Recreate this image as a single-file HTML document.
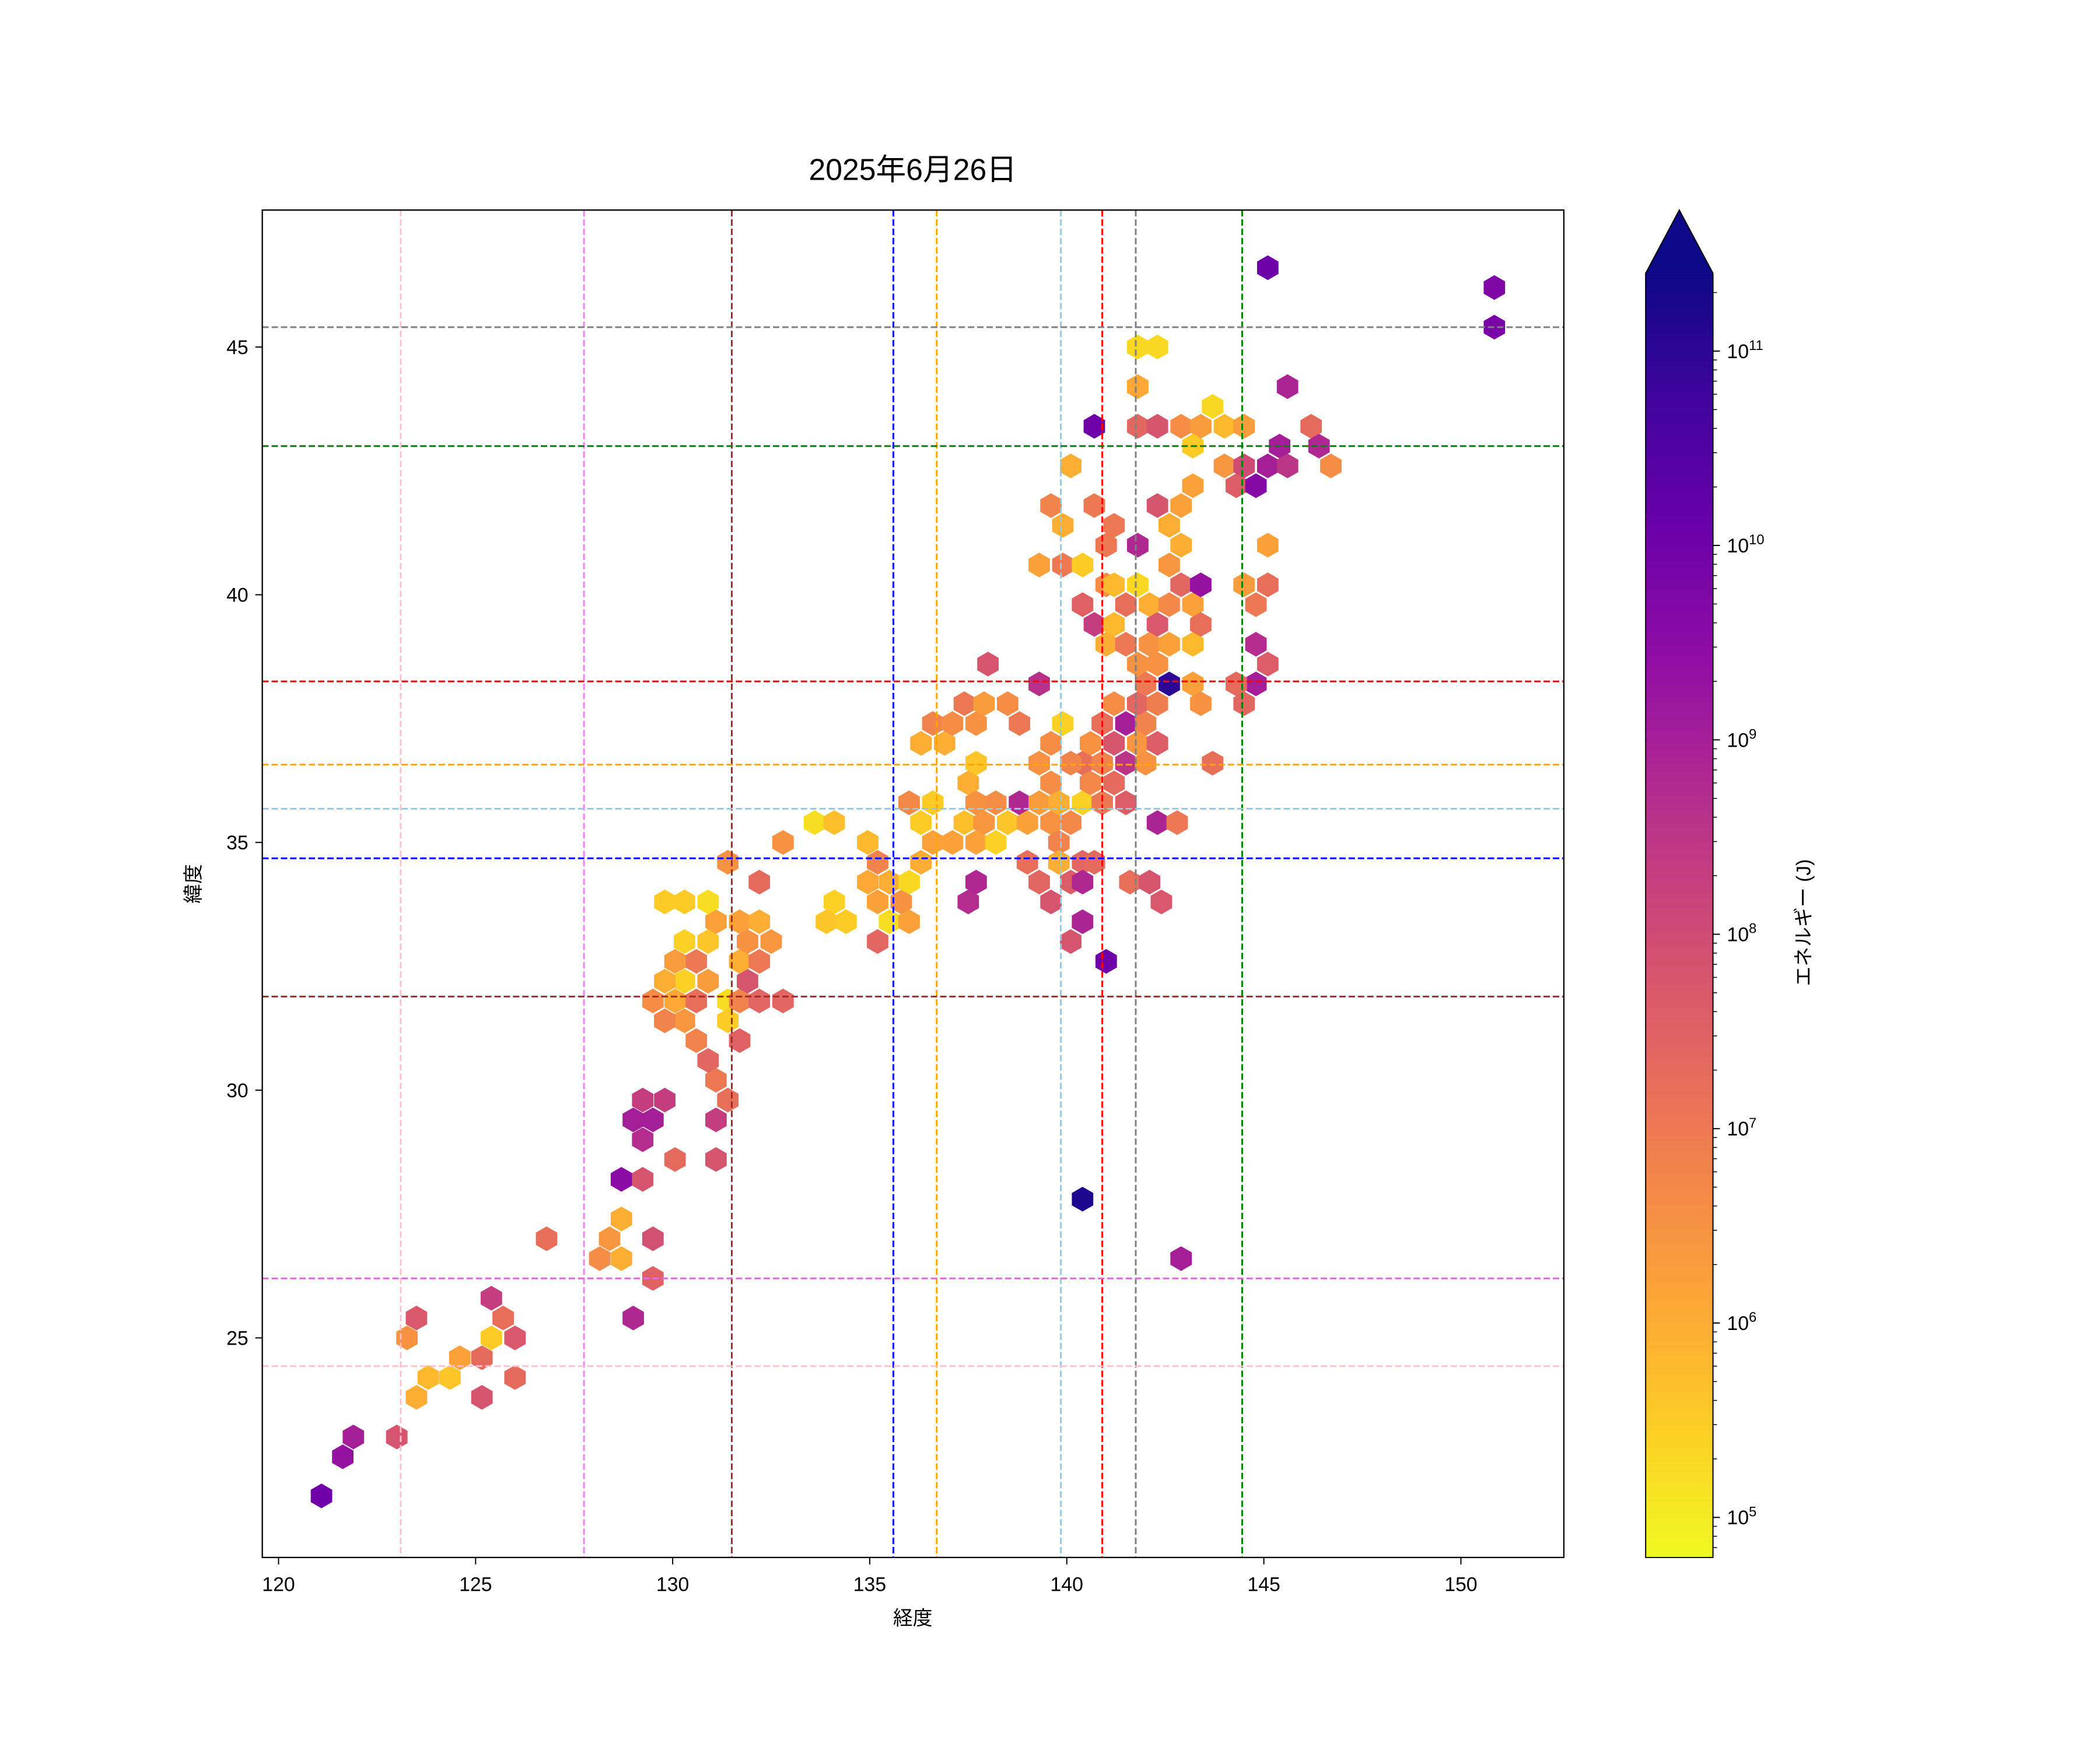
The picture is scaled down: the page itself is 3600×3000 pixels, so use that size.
<!DOCTYPE html>
<html><head><meta charset="utf-8"><style>
html,body{margin:0;padding:0;background:#fff;}
svg{display:block;font-family:"Liberation Sans","Noto Sans CJK JP",sans-serif;}
</style></head><body>
<svg id="chart" width="3600" height="3000" viewBox="0 0 3600 3000" xmlns="http://www.w3.org/2000/svg">
<rect width="3600" height="3000" fill="#fff"/>
<defs><linearGradient id="cbg" x1="0" y1="1" x2="0" y2="0"></linearGradient></defs>
<g transform="scale(0.99476)">
<text x="1573" y="310" font-size="52" text-anchor="middle" fill="#000">2025年6月26日</text>
<g id="hexes"></g>
<g id="refs"></g>
<rect x="452" y="362" width="2243" height="2322" fill="none" stroke="#000" stroke-width="2.3"/>
<g id="xaxis"></g>
<g id="yaxis"></g>
<text x="1573" y="2800" font-size="34" text-anchor="middle">経度</text>
<text transform="translate(345,1523) rotate(-90)" font-size="34" text-anchor="middle">緯度</text>
<g id="cbar"></g>
<text transform="translate(3120,1590) rotate(-90)" font-size="34" text-anchor="middle">エネルギー (J)</text>
</g>
</svg>
<script>
// data: [longitude, latitude, log10 energy]
const lons=[121.09,121.63,121.9,123.0,123.26,123.5,123.5,123.8,124.35,124.6,125.16,125.16,125.4,125.4,125.7,126.0,126.0,126.8,128.15,128.4,128.7,128.7,128.7,129.0,129.24,129.5,129.5,129.0,129.24,129.24,129.5,129.8,130.06,131.1,131.1,131.4,131.1,130.9,130.6,130.3,129.8,129.5,130.06,130.6,130.9,130.3,129.8,130.06,130.6,130.3,130.9,131.1,129.8,130.3,130.9,131.4,131.4,131.7,131.7,131.9,131.7,131.7,131.9,132.2,132.2,132.5,132.2,132.8,132.2,131.4,132.8,133.6,134.1,133.9,134.4,134.1,134.95,134.95,135.2,135.2,135.5,135.5,135.2,135.8,136.0,136.0,136.3,136.3,136.6,136.0,136.6,136.3,136.6,136.9,137.1,137.1,137.4,137.5,137.7,137.4,137.7,137.9,138.0,137.7,137.9,138.2,137.7,138.2,138.5,137.7,137.5,138.5,138.8,138.8,139.0,139.0,139.3,139.3,139.3,139.6,139.3,139.6,139.9,139.6,139.6,139.8,140.1,139.8,139.8,140.1,140.4,140.4,140.4,140.1,141.0,140.7,140.4,140.4,140.6,140.1,140.6,140.9,141.2,140.9,141.2,140.9,141.5,141.5,141.5,141.2,141.8,142.0,141.8,142.0,142.3,142.0,142.3,142.6,143.2,143.4,143.7,142.3,142.8,141.6,142.1,142.4,140.7,140.1,139.6,139.9,140.7,139.3,139.9,140.4,140.4,140.7,141.0,141.0,141.0,141.2,141.2,141.2,141.5,141.5,141.8,141.8,141.8,142.1,142.1,142.3,142.3,142.6,142.6,142.9,143.2,143.2,143.4,143.4,142.6,142.9,142.6,142.3,142.9,143.2,141.8,141.8,142.3,141.8,142.3,142.9,143.4,143.2,143.7,144.0,144.5,144.0,144.3,144.5,144.8,145.1,145.4,145.6,145.6,145.1,146.2,146.4,146.7,145.1,144.5,145.1,144.8,144.8,145.1,144.8,144.5,144.3,140.4,142.9,150.85,150.85];
const lats=[21.81,22.6,23.0,23.0,25.0,25.4,23.8,24.2,24.2,24.6,24.6,23.8,25.8,25.0,25.4,25.0,24.2,27.0,26.6,27.0,27.4,26.6,28.2,25.4,28.2,27.0,26.2,29.4,29.8,29.0,29.4,29.8,28.6,29.4,28.6,29.8,30.2,30.6,31.0,31.4,31.4,31.8,31.8,31.8,32.2,32.2,32.2,32.6,32.6,33.0,33.0,33.4,33.8,33.8,33.8,31.8,31.4,31.0,31.8,32.2,32.6,33.4,33.0,32.6,33.4,33.0,31.8,31.8,34.2,34.6,35.0,35.4,35.4,33.4,33.4,33.8,35.0,34.2,34.6,33.8,34.2,33.4,33.0,33.8,34.2,33.4,34.6,35.4,35.0,35.8,35.8,37.0,37.4,37.0,37.4,35.0,35.4,36.2,36.6,37.8,37.4,37.8,38.6,35.8,35.4,35.8,35.0,35.0,35.4,34.2,33.8,37.8,37.4,35.8,35.4,34.6,35.8,36.6,34.2,33.8,38.2,37.0,37.4,36.2,35.4,35.8,35.4,35.0,34.6,34.2,34.6,34.2,33.4,33.0,32.6,34.6,35.8,36.6,36.2,36.6,37.0,37.4,37.0,36.6,36.2,35.8,35.8,36.6,37.4,37.8,37.8,37.4,37.0,36.6,37.0,38.2,37.8,38.2,38.2,37.8,36.6,35.4,35.4,34.2,34.2,33.8,43.4,42.6,41.8,41.4,41.8,40.6,40.6,40.6,39.8,39.4,39.0,40.2,41.0,41.4,39.4,40.2,39.8,39.0,40.2,41.0,38.6,39.8,39.0,39.4,38.6,39.8,39.0,40.2,39.8,39.0,39.4,40.2,40.6,41.0,41.4,41.8,41.8,42.2,44.2,45.0,45.0,43.4,43.4,43.4,43.4,43.0,43.8,43.4,43.4,42.6,42.2,42.6,42.2,42.6,43.0,42.6,44.2,46.6,43.4,43.0,42.6,41.0,40.2,40.2,39.8,39.0,38.6,38.2,37.8,38.2,27.8,26.6,46.2,45.4];
const energies=[10,9.3,9,7.8,6.5,7.7,6,5.8,5.6,6.2,7.3,7.8,8.3,5.5,7.2,7.7,7.3,7.2,6.6,6.4,6.0,6.0,9.5,8.8,7.8,7.9,7.5,9,8.3,8.7,9,8.3,7.3,8.3,7.8,7.2,7.0,7.4,6.8,6.4,6.8,6.6,6.1,7.2,6.3,5.4,6.0,6.3,7.0,5.4,5.6,6.2,5.5,5.5,5.2,5.2,5.5,7.5,6.8,7.8,6.0,6.2,6.5,7.0,6.0,6.4,7.4,7.4,7.3,6.5,6.5,5.2,5.7,5.6,5.5,5.4,5.8,6.1,6.8,6.2,6.0,5.2,7.4,6.5,5.3,6.2,6.0,5.5,6.2,6.7,5.5,6.0,6.8,6.0,6.6,6.2,5.7,6.0,5.6,7.0,6.5,6.3,7.8,6.5,6.4,6.6,6.2,5.4,5.6,8.8,8.7,6.6,7.0,8.8,6.2,7.2,6.3,6.5,7.4,7.8,8.6,6.6,5.4,6.6,6.5,6.0,6.7,6.8,6.0,7.6,7.4,8.8,8.9,7.8,10,7.3,5.4,7.2,6.7,6.8,6.5,7.2,7.8,6.8,7.3,7.0,7.6,8.5,9,6.6,7.4,6.8,6.4,6.5,7.6,7.0,6.9,11,6.2,6.5,7.2,8.9,7.0,7.2,7.8,7.7,10,6.0,6.8,6.0,7.0,6.2,7.0,5.5,7.5,8.3,6.0,6.6,7.0,7.0,5.8,5.8,7.2,7.0,5.3,8.8,6.5,6.0,6.5,7.7,6.5,6.7,6.2,7.4,6.2,5.8,7.2,9.3,6.4,6.0,6.0,7.8,6.2,6.2,6.1,5.3,5.3,7.4,7.8,6.6,6.3,5.5,5.3,5.8,6.3,6.4,7.6,8.0,9.6,9.0,9.0,8.5,8.9,10,7.3,8.8,6.6,6.2,6.3,7.2,7.0,8.7,7.6,9.0,7.4,7.3,11.2,9.0,9.7,9.8];
const xTicks=[120,125,130,135,140,145,150];
const yTicks=[25,30,35,40,45];
const cbTicks=[5,6,7,8,9,10,11];
const vLineLons=[123.1,127.75,131.5,135.6,136.7,139.85,140.9,141.75,144.45];
const vLineColors=["pink","violet","brown","blue","orange","skyblue","red","gray","green"];
const hLineLats=[45.4,43.0,38.25,36.57,35.68,34.68,31.89,26.2,24.43];
const hLineColors=["gray","green","red","orange","skyblue","blue","brown","orchid","pink"];

const NS="http://www.w3.org/2000/svg";
const X=v=>480+(v-120)*67.92;
const Y=v=>598+(45-v)*85.38;
const CB=v=>605+(11-v)*335;
const vmin=4.79,vmax=11.4;
const stops=["#0d0887","#41049d","#6a00a8","#8f0da4","#b12a90","#cc4778","#e16462","#f2844b","#fca636","#fcce25","#f0f921"];
function hex2rgb(h){return [1,3,5].map(i=>parseInt(h.substr(i,2),16));}
function plasmaR(v){let t=1-(v-vmin)/(vmax-vmin);t=Math.max(0,Math.min(1,t));const p=t*10,i=Math.min(9,Math.floor(p)),f=p-i;const a=hex2rgb(stops[i]),b=hex2rgb(stops[i+1]);return "rgb("+a.map((c,k)=>Math.round(c+(b[k]-c)*f)).join(",")+")";}
function mk(tag,attrs,parent){const e=document.createElementNS(NS,tag);for(const k in attrs)e.setAttribute(k,attrs[k]);parent.appendChild(e);return e;}

const hg=document.getElementById('hexes');
const hw=18.5,hr=21.3;
for(let i=0;i<lons.length;i++){
  const cx=X(lons[i]),cy=Y(lats[i]);
  const pts=[[0,-hr],[hw,-hr/2],[hw,hr/2],[0,hr],[-hw,hr/2],[-hw,-hr/2]].map(p=>(cx+p[0]).toFixed(1)+","+(cy+p[1]).toFixed(1)).join(" ");
  const h=mk('polygon',{points:pts,fill:plasmaR(energies[i])},hg);
  
  
}
const rg=document.getElementById('refs');
for(let i=0;i<vLineLons.length;i++){
  const l=mk('line',{x1:X(vLineLons[i]),x2:X(vLineLons[i]),y1:362,y2:2684,stroke:vLineColors[i],'stroke-width':3,'stroke-dasharray':'11,5'},rg);
  
  
}
for(let i=0;i<hLineLats.length;i++){
  const l=mk('line',{x1:452,x2:2695,y1:Y(hLineLats[i]),y2:Y(hLineLats[i]),stroke:hLineColors[i],'stroke-width':3,'stroke-dasharray':'11,5'},rg);
  
  
}
const xg=document.getElementById('xaxis');
xTicks.forEach(t=>{
  mk('line',{x1:X(t),x2:X(t),y1:2684,y2:2696,stroke:'#000','stroke-width':2},xg);
  const tx=mk('text',{x:X(t),y:2742,'font-size':34,'text-anchor':'middle'},xg);tx.textContent=t;
  
  
});
const yg=document.getElementById('yaxis');
yTicks.forEach(t=>{
  mk('line',{x1:440,x2:452,y1:Y(t),y2:Y(t),stroke:'#000','stroke-width':2},yg);
  const tx=mk('text',{x:428,y:Y(t)+12,'font-size':34,'text-anchor':'end'},yg);tx.textContent=t;
  
  
});
// colorbar
const gr=document.getElementById('cbg');
for(let k=0;k<=20;k++){const v=vmin+(vmax-vmin)*k/20;mk('stop',{offset:(k/20),'stop-color':plasmaR(v)},gr);}
const cg=document.getElementById('cbar');
mk('rect',{x:2836,y:471,width:116,height:2213,fill:'url(#cbg)'},cg);
mk('polygon',{points:'2836,471 2894,362 2952,471',fill:plasmaR(vmax)},cg);
mk('polygon',{points:'2836,2684 2836,471 2894,362 2952,471 2952,2684',fill:'none',stroke:'#000','stroke-width':2},cg);
for(let d=4;d<=11;d++){for(let m=1;m<10;m++){const v=d+Math.log10(m);if(v<vmin||v>vmax)continue;const y=CB(v);const len=m===1?12:7;mk('line',{x1:2952,x2:2952+len,y1:y,y2:y,stroke:'#000','stroke-width':m===1?2:1.5},cg);}}
cbTicks.forEach(t=>{
  const tx=mk('text',{x:2976,y:CB(t)+12,'font-size':34},cg);
  
  
  tx.appendChild(document.createTextNode('10'));
  const s=mk('tspan',{dy:-14,'font-size':24},tx);s.textContent=t;
});
</script>
</body></html>
